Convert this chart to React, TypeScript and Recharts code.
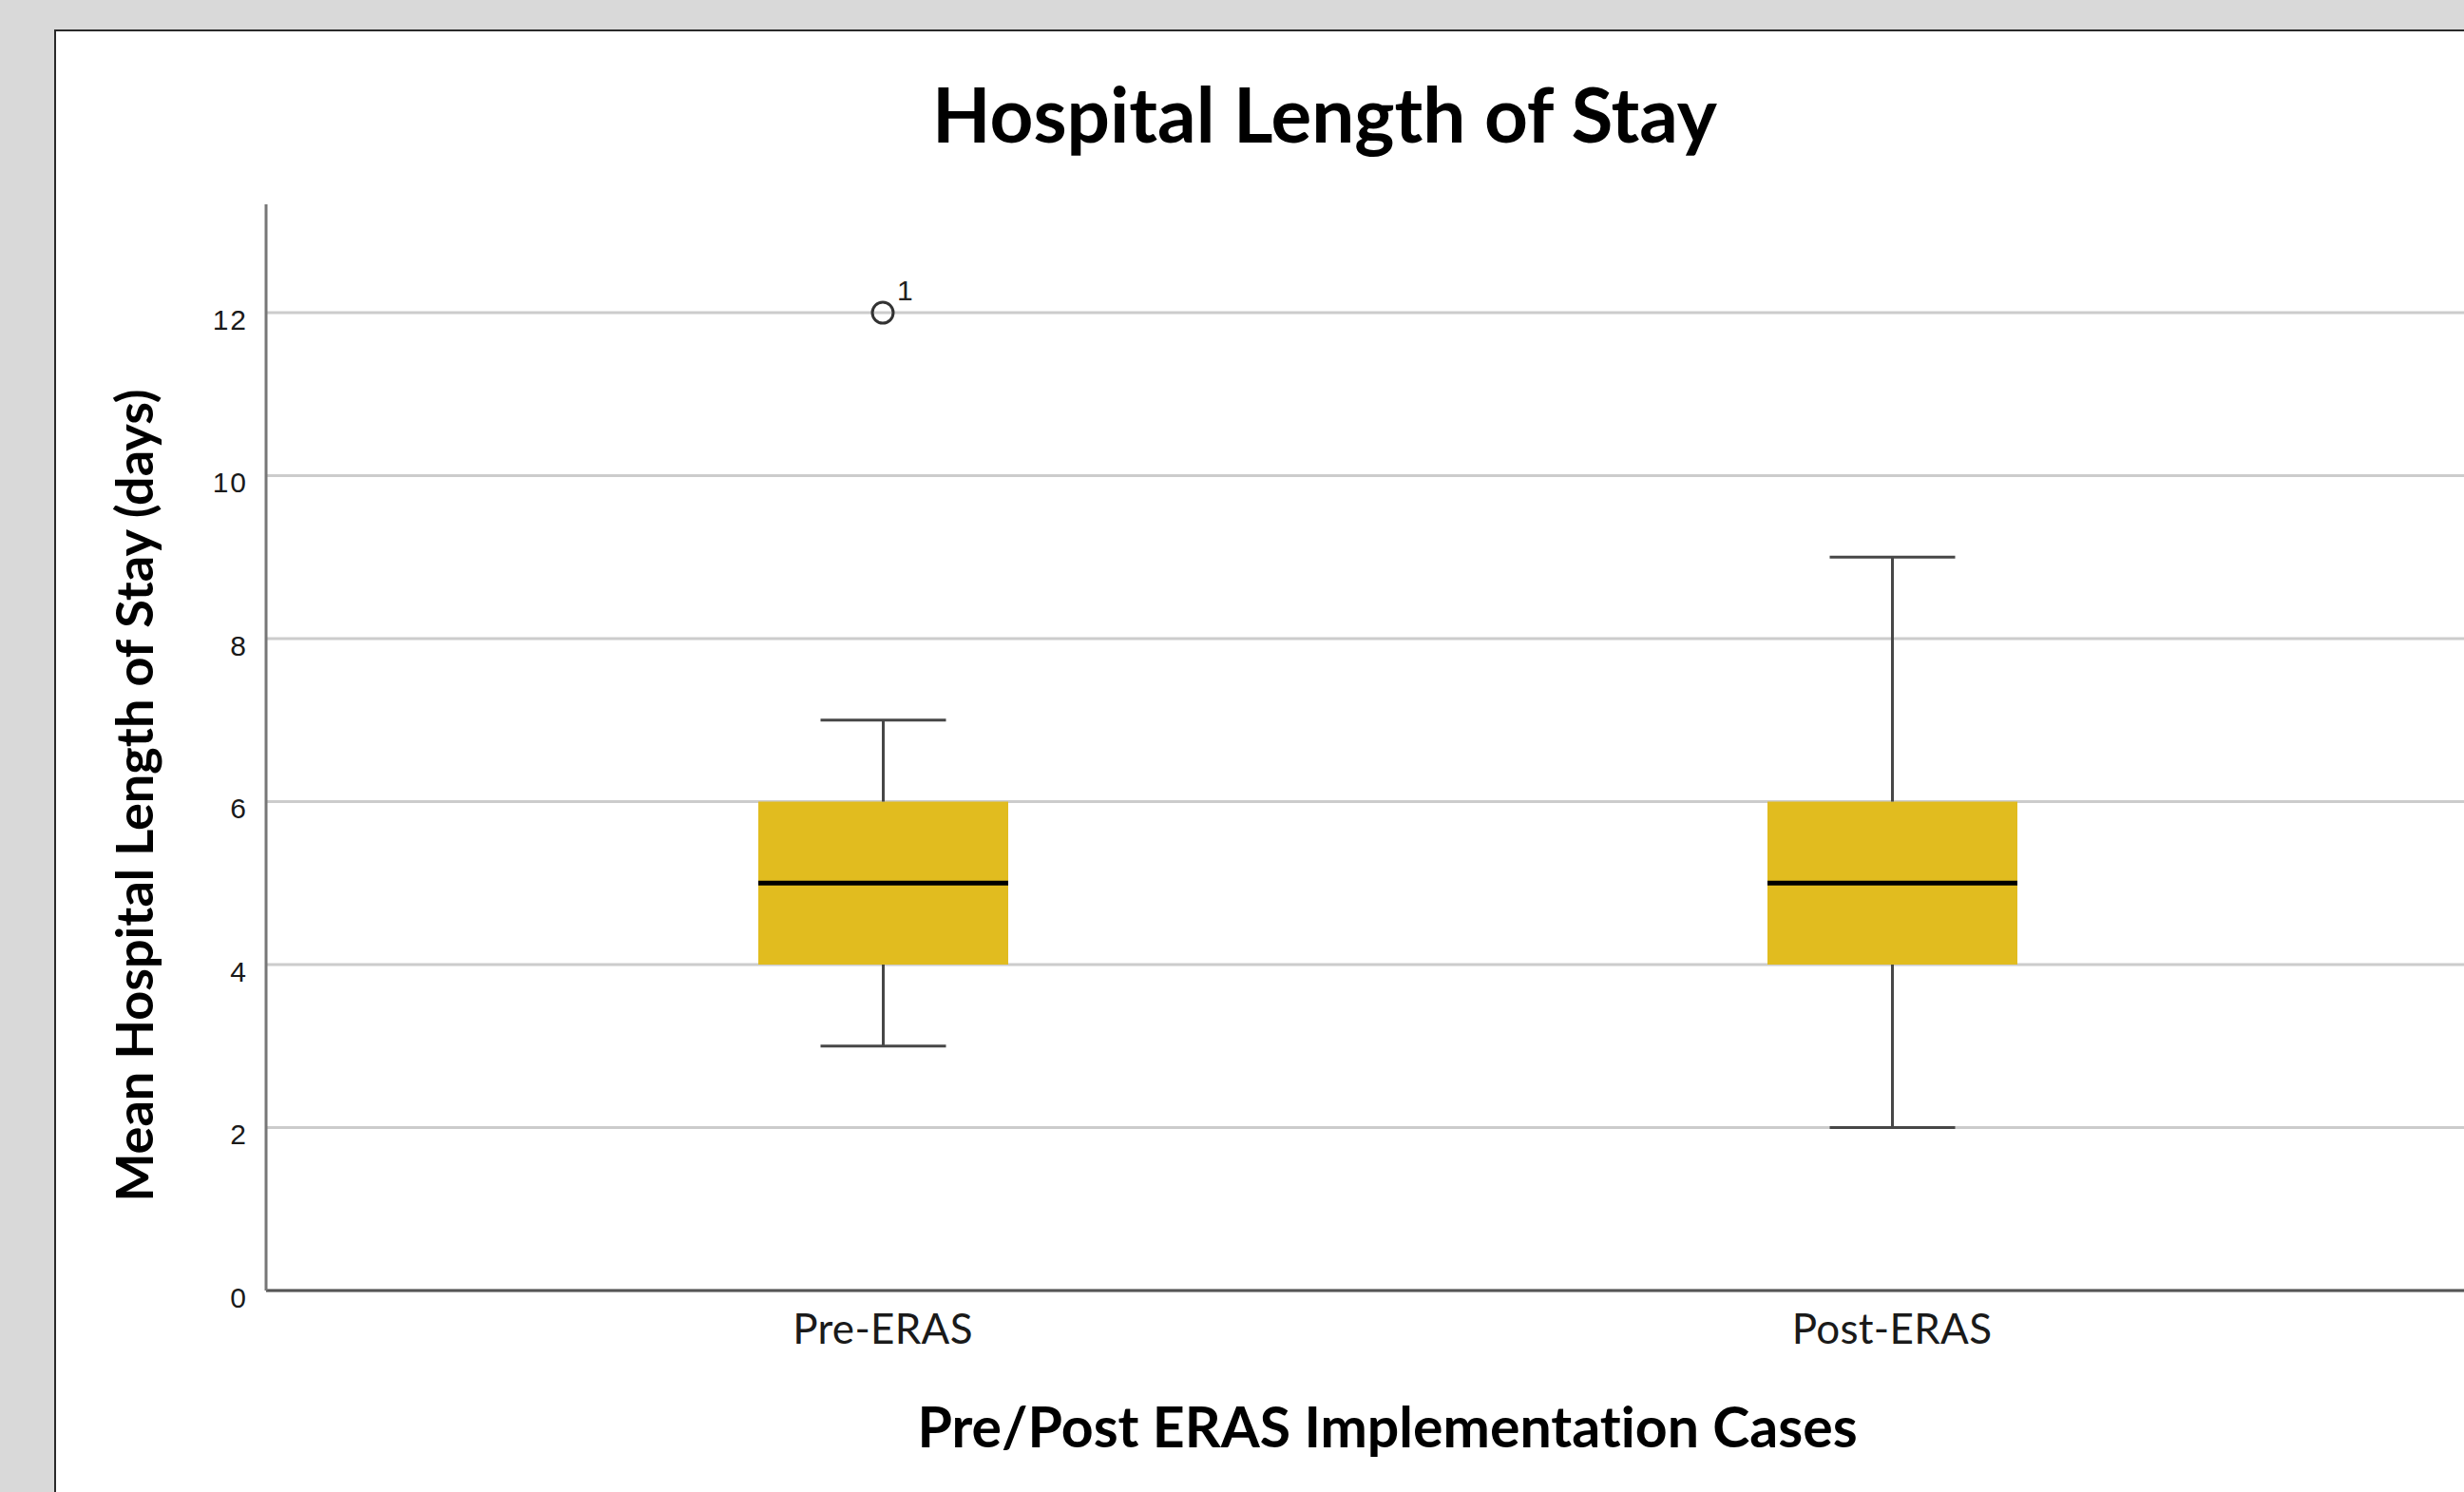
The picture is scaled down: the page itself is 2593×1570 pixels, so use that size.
import {
  Bar,
  CartesianGrid,
  ComposedChart,
  Scatter,
  XAxis,
  YAxis,
} from "recharts";

const categories = ["Pre-ERAS", "Post-ERAS"];
const whiskerLow = [3, 2];
const quartile1 = [4, 4];
const medians = [5, 5];
const quartile3 = [6, 6];
const whiskerHigh = [7, 9];
const outliers: (number | null)[] = [12, null];
const outlierIds = ["1", ""];
const yTicks = [0, 2, 4, 6, 8, 10, 12];

// stacked segments for the box plot
const data = categories.map((name, i) => ({
  name,
  base: whiskerLow[i],
  lowWhisker: quartile1[i] - whiskerLow[i],
  lowBox: medians[i] - quartile1[i],
  highBox: quartile3[i] - medians[i],
  highWhisker: whiskerHigh[i] - quartile3[i],
  outlier: outliers[i],
  outlierId: outlierIds[i],
}));

const BOX = "#e1bc1f";
const WHISKER = "#474747";
const CAP = 66;

function LowWhisker(props: any) {
  const { x, y, width, height } = props;
  const cx = x + width / 2;
  return (
    <g>
      <line x1={cx} x2={cx} y1={y} y2={y + height} stroke={WHISKER} strokeWidth={3} />
      <line x1={cx - CAP} x2={cx + CAP} y1={y + height} y2={y + height} stroke={WHISKER} strokeWidth={3} />
    </g>
  );
}

function HighWhisker(props: any) {
  const { x, y, width, height } = props;
  const cx = x + width / 2;
  return (
    <g>
      <line x1={cx} x2={cx} y1={y} y2={y + height} stroke={WHISKER} strokeWidth={3} />
      <line x1={cx - CAP} x2={cx + CAP} y1={y} y2={y} stroke={WHISKER} strokeWidth={3} />
    </g>
  );
}

function UpperBox(props: any) {
  const { x, y, width, height } = props;
  return (
    <g>
      <rect x={x} y={y} width={width} height={height} fill={BOX} />
      <line x1={x} x2={x + width} y1={y + height} y2={y + height} stroke="#000" strokeWidth={5} />
    </g>
  );
}

function OutlierDot(props: any) {
  const { cx, cy, payload } = props;
  if (payload?.outlier == null || cx == null || cy == null) return <g />;
  return (
    <g>
      <circle cx={cx} cy={cy} r={11} fill="none" stroke="#333" strokeWidth={3} />
      <text x={cx + 15} y={cy - 13} fontFamily="Liberation Sans, Arial" fontSize={30} fill="#222">
        {payload.outlierId}
      </text>
    </g>
  );
}

function YTick(props: any) {
  const { x, y, payload } = props;
  return (
    <text x={x} y={y + 7} textAnchor="end" dominantBaseline="central"
      fontFamily="Liberation Sans, Arial" fontSize={30} fill="#1a1a1a" letterSpacing={2}>
      {payload.value}
    </text>
  );
}

function XTick(props: any) {
  const { x, y, payload } = props;
  return (
    <text x={x} y={y} textAnchor="middle" dominantBaseline="central"
      fontFamily="Lato" fontSize={44} fill="#1a1a1a" letterSpacing={0.3}>
      {payload.value}
    </text>
  );
}

export default function App() {
  return (
    <div style={{ position: "fixed", left: 0, top: 0, width: 2593, height: 1570, background: "#d9d9d9", overflow: "hidden" }}>
      <div style={{ position: "absolute", left: 57, top: 31, width: 2800, height: 1700, background: "#fff", borderLeft: "2px solid #2a2a2a", borderTop: "2px solid #2a2a2a" }} />
      <div style={{ position: "absolute", left: 1394, top: 119, transform: "translate(-50%,-50%)", fontFamily: "Lato", fontWeight: 700, fontSize: 80, lineHeight: 1, whiteSpace: "nowrap", color: "#000" }}>
        Hospital Length of Stay
      </div>
      <div style={{ position: "absolute", left: 141, top: 837, transform: "translate(-50%,-50%) rotate(-90deg)", fontFamily: "Lato", fontWeight: 700, fontSize: 54, lineHeight: 1, whiteSpace: "nowrap", color: "#000" }}>
        Mean Hospital Length of Stay (days)
      </div>
      <div style={{ position: "absolute", left: 1460, top: 1500, transform: "translate(-50%,-50%)", fontFamily: "Lato", fontWeight: 700, fontSize: 59, lineHeight: 1, whiteSpace: "nowrap", color: "#000", fontVariantLigatures: "none" }}>
        Pre/Post ERAS Implementation Cases
      </div>
      <div style={{ position: "absolute", left: 0, top: 0 }}>
        <ComposedChart width={2700} height={1570} data={data}
          margin={{ left: 180, top: 215, right: 60, bottom: 112 }}>
          <CartesianGrid vertical={false} horizontalValues={yTicks} stroke="#cccccc" strokeWidth={3} />
          <XAxis dataKey="name" type="category" padding={{ left: 118, right: 118 }}
            height={100} tickLine={false} tickSize={10} tickMargin={29} tick={<XTick />}
            axisLine={{ stroke: "#555", strokeWidth: 3 }} />
          <YAxis type="number" domain={[0, 13.33]} ticks={yTicks} width={100}
            tickLine={false} tickSize={10} tickMargin={9} tick={<YTick />}
            axisLine={{ stroke: "#777", strokeWidth: 3 }} allowDataOverflow />
          <Bar dataKey="base" stackId="box" fill="transparent" barSize={263} isAnimationActive={false} />
          <Bar dataKey="lowWhisker" stackId="box" shape={<LowWhisker />} barSize={263} isAnimationActive={false} />
          <Bar dataKey="lowBox" stackId="box" fill={BOX} barSize={263} isAnimationActive={false} />
          <Bar dataKey="highBox" stackId="box" shape={<UpperBox />} barSize={263} isAnimationActive={false} />
          <Bar dataKey="highWhisker" stackId="box" shape={<HighWhisker />} barSize={263} isAnimationActive={false} />
          <Scatter dataKey="outlier" shape={<OutlierDot />} isAnimationActive={false} />
        </ComposedChart>
      </div>
    </div>
  );
}
